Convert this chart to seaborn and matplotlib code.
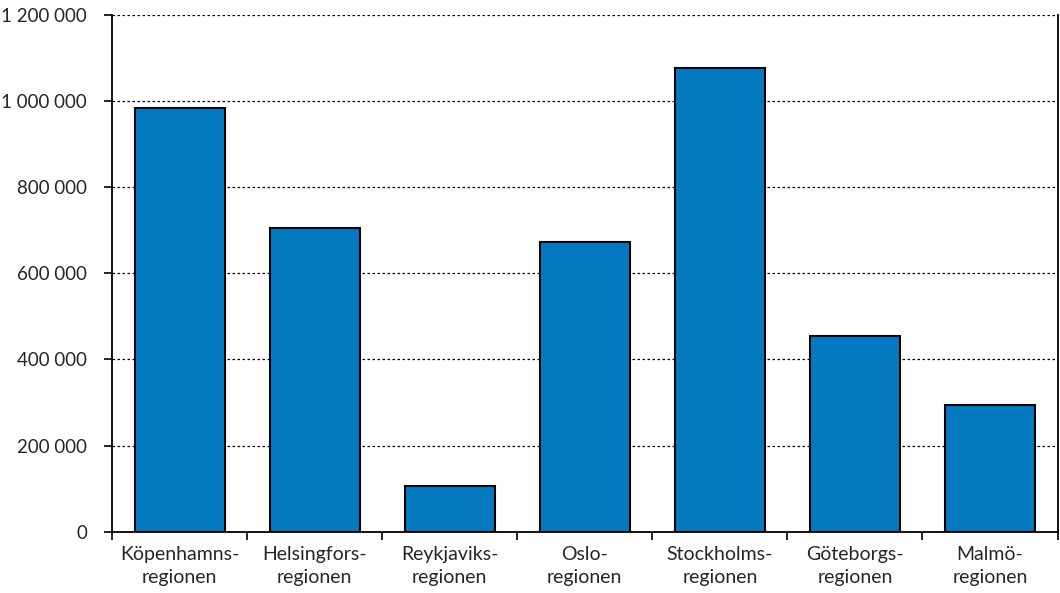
import matplotlib.pyplot as plt
from matplotlib.ticker import FuncFormatter
import seaborn as sns
import pandas as pd

regions = ["Köpenhamns-\nregionen", "Helsingfors-\nregionen", "Reykjaviks-\nregionen",
           "Oslo-\nregionen", "Stockholms-\nregionen", "Göteborgs-\nregionen",
           "Malmö-\nregionen"]
population = [984000, 705000, 107000, 672000, 1077000, 454000, 295000]

df = pd.DataFrame({"region": regions, "pop": population})

sns.set_style("white")
plt.rcParams["font.family"] = ["Lato", "DejaVu Sans"]

fig = plt.figure(figsize=(10.6, 5.93), dpi=100)
ax = fig.add_axes([0.1057, 0.1034, 0.892, 0.8713])

sns.barplot(x="region", y="pop", data=df, color="#0579C0", width=0.667,
            edgecolor="black", linewidth=1.5, saturation=1, ax=ax, zorder=3)

ax.set_xlim(-0.5, len(regions) - 0.5)
ax.set_ylim(0, 1200000)
ax.set_yticks(range(0, 1200001, 200000))
ax.yaxis.set_major_formatter(FuncFormatter(lambda v, p: f"{int(v):,}".replace(",", " ")))
ax.yaxis.grid(True, linestyle=(0, (2, 2)), color="black", linewidth=0.9, zorder=0)
ax.set_axisbelow(True)

# x ticks at category boundaries, labels centred
ax.set_xticks([i + 0.5 for i in range(-1, len(regions))], minor=False)
ax.set_xticklabels([])
ax.set_xticks(range(len(regions)), minor=True)
ax.set_xticklabels(regions, minor=True, fontsize=14, linespacing=1.45)
ax.tick_params(axis="x", which="minor", length=0, pad=10)
ax.tick_params(axis="x", which="major", length=6, width=1.2, color="black", direction="out", bottom=True)
ax.tick_params(axis="y", length=6, width=1.2, color="black", direction="out", left=True,
               labelsize=13.5, pad=12)
ax.set_xlabel("")
ax.set_ylabel("")

for s in ["left", "bottom", "right"]:
    ax.spines[s].set_visible(True)
    ax.spines[s].set_color("black")
    ax.spines[s].set_linewidth(1.3)
ax.spines["top"].set_visible(False)

fig.savefig("out.png", dpi=100)
